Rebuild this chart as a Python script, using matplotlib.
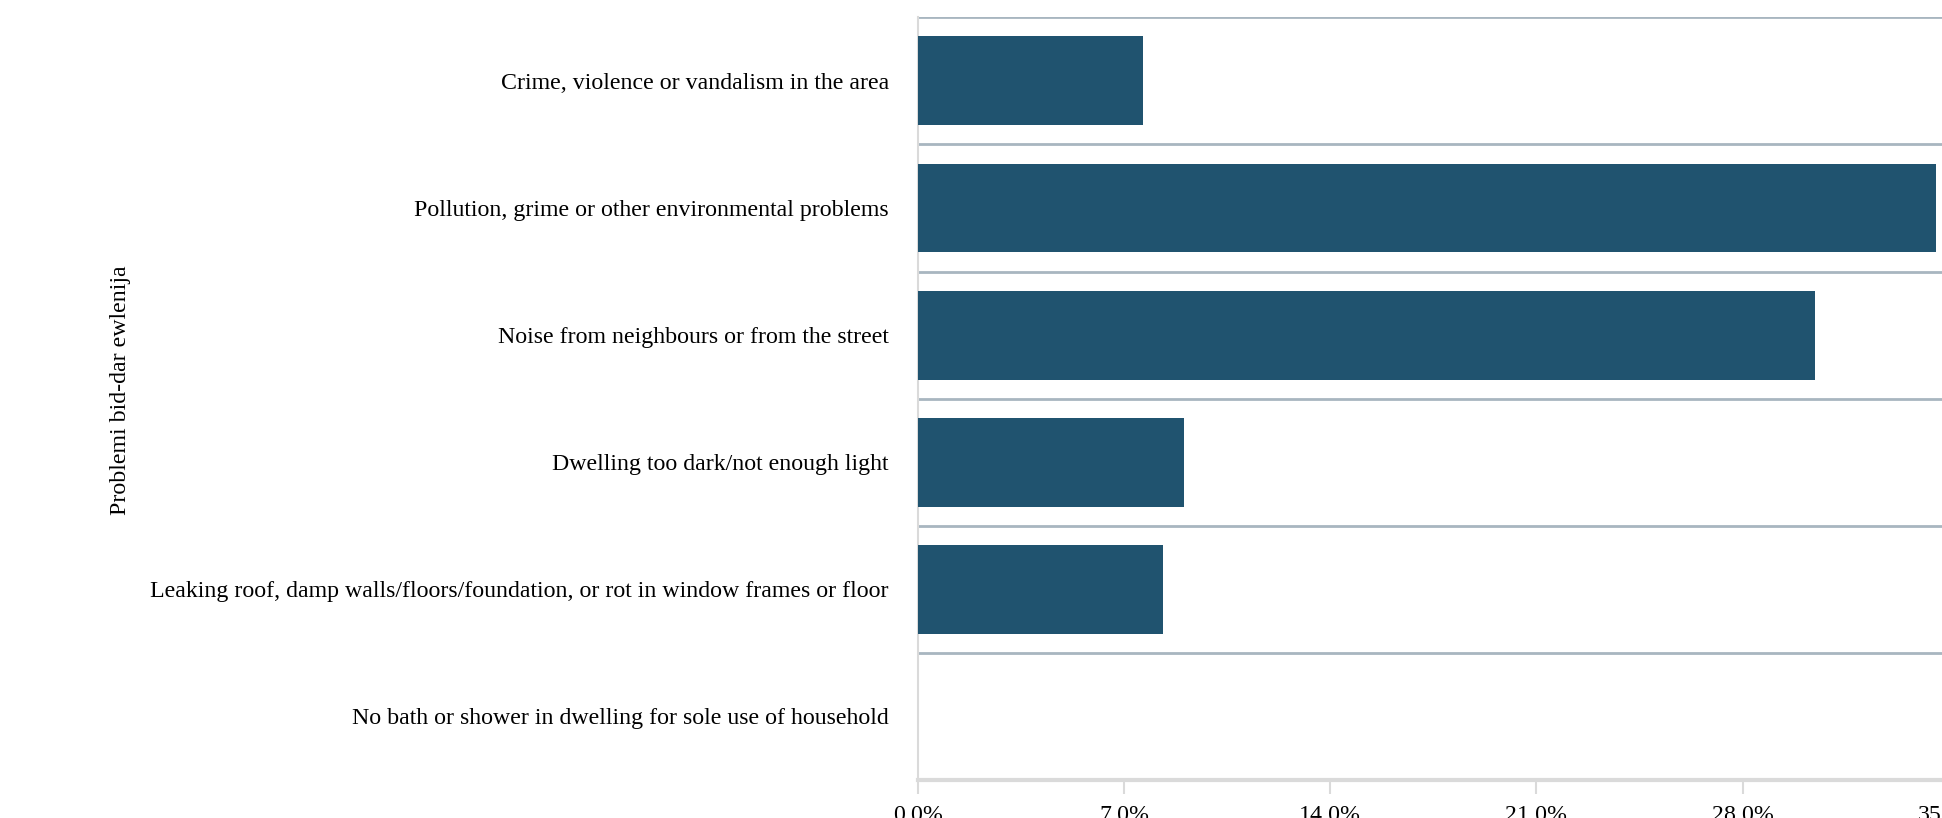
import matplotlib
matplotlib.use('Agg')
import matplotlib.pyplot as plt
from matplotlib.ticker import FuncFormatter

# data (share of households, %)
problems = [
    'Crime, violence or vandalism in the area',
    'Pollution, grime or other environmental problems',
    'Noise from neighbours or from the street',
    'Dwelling too dark/not enough light',
    'Leaking roof, damp walls/floors/foundation, or rot in window frames or floor',
    'No bath or shower in dwelling for sole use of household',
]
shares = [7.64, 34.56, 30.45, 9.03, 8.32, 0.0]
x_ticks = [0, 7, 14, 21, 28, 35]

bar_color = '#20536f'
sep_color = '#a8b6c0'
axis_color = '#dadada'

plt.rcParams['font.family'] = ['Liberation Serif', 'DejaVu Serif']

fig = plt.figure(figsize=(19.42, 8.18), dpi=100)
ax = fig.add_axes([0.4727, 0.0465, 0.5308, 0.9323])

ypos = list(range(len(problems)))
ax.barh(ypos, shares, height=0.7, color=bar_color, zorder=3)

# separators between the categories
for b in range(len(problems)):
    ax.axhline(b - 0.5, color=sep_color, lw=2, zorder=2)

ax.set_ylim(len(problems) - 0.5, -0.5)
ax.set_xlim(0, 35)
ax.set_yticks(ypos)
ax.set_yticklabels(problems, fontsize=17.2)
ax.set_xticks(x_ticks)
ax.xaxis.set_major_formatter(FuncFormatter(lambda v, p: f'{v:.1f}%'))
ax.tick_params(axis='x', length=10, width=1.5, color=axis_color, labelsize=17.2, pad=8)
ax.tick_params(axis='y', length=0, pad=21)

for s in ['top', 'right']:
    ax.spines[s].set_visible(False)
ax.spines['left'].set_color(axis_color)
ax.spines['left'].set_linewidth(1.5)
ax.spines['bottom'].set_color(axis_color)
ax.spines['bottom'].set_linewidth(3)
ax.spines['bottom'].set_zorder(4)

fig.text(0.0623, 0.523, 'Problemi bid-dar ewlenija', rotation=90,
         ha='center', va='center', fontsize=17.2)

fig.savefig('out.png', dpi=100, facecolor='white')
